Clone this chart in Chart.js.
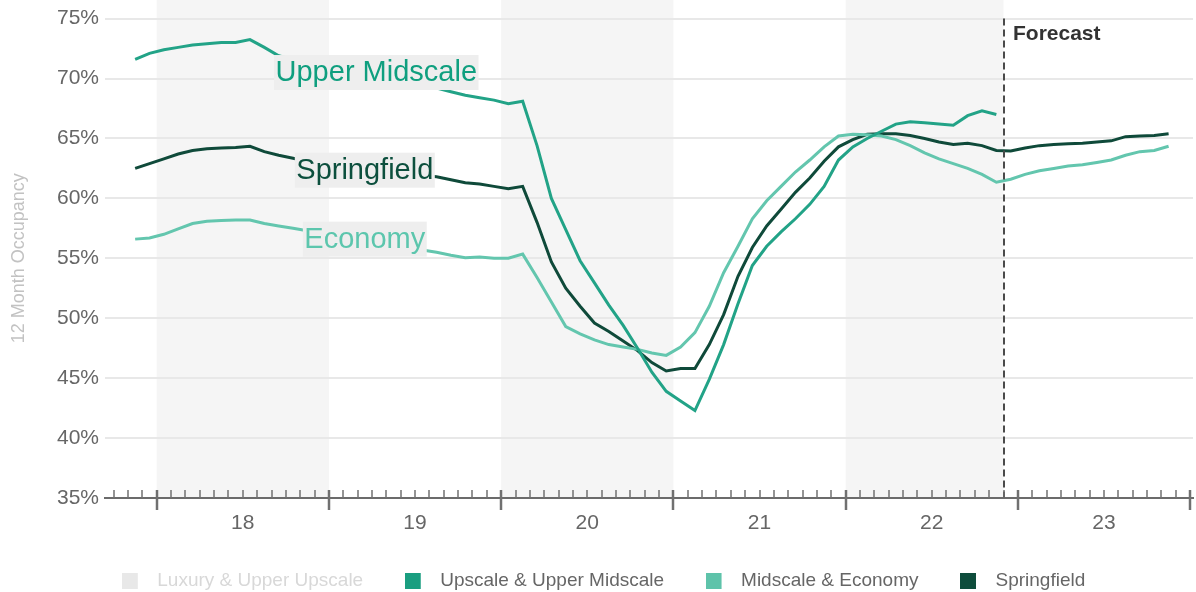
<!DOCTYPE html>
<html>
<head>
<meta charset="utf-8">
<script src="https://cdn.jsdelivr.net/npm/chart.js@4.4.0/dist/chart.umd.min.js"></script>
<style>
  html, body { margin: 0; padding: 0; background: #fff; }
  #wrap { width: 1196px; height: 592px; }
</style>
</head>
<body>
<div id="wrap"><canvas id="occupancyChart"></canvas></div>
<script>
// Monthly 12-month occupancy, Nov 2017 .. Nov 2023 (forecast from Dec 2022)
const months = [];
for (let i = 0; i < 73; i++) {
  const d = new Date(2017, 10 + i, 1);
  months.push(d.getFullYear() + '-' + String(d.getMonth() + 1).padStart(2, '0'));
}

const upperMidscale = [
  71.6, 72.1, 72.4, 72.6, 72.8, 72.9, 73.0, 73.0, 73.25, 72.6, 71.9, 71.6,
  71.3, 71.0, 70.7, 70.5, 70.3, 70.0, 69.8, 69.6, 69.4, 69.2, 68.9, 68.6,
  68.4, 68.2, 67.9, 68.1, 64.4, 60.0, 57.4, 54.8, 52.95, 51.1, 49.4, 47.5,
  45.5, 43.9, 43.1, 42.3, 44.9, 47.8, 51.2, 54.4, 56.0, 57.2, 58.3, 59.5,
  61.0, 63.2, 64.3, 65.0, 65.6, 66.2, 66.4, 66.3, 66.2, 66.1, 66.9, 67.3,
  67.0
];

const economy = [
  56.6, 56.7, 57.0, 57.45, 57.9, 58.1, 58.15, 58.2, 58.2, 57.9, 57.7, 57.5,
  57.3, 57.1, 56.9, 56.7, 56.5, 56.3, 56.1, 55.9, 55.7, 55.5, 55.25, 55.05,
  55.1, 55.0, 55.0, 55.35, 53.4, 51.35, 49.3, 48.7, 48.2, 47.8, 47.6, 47.4,
  47.1, 46.9, 47.6, 48.8, 51.0, 53.8, 56.0, 58.3, 59.8, 61.0, 62.2, 63.2,
  64.3, 65.2, 65.35, 65.3, 65.2, 64.9, 64.4, 63.8, 63.3, 62.9, 62.5, 62.0,
  61.35, 61.6, 62.0, 62.3, 62.5, 62.7, 62.8, 63.0, 63.2, 63.6, 63.9, 64.0,
  64.35
];

const springfield = [
  62.5, 62.9, 63.3, 63.7, 64.0, 64.15, 64.2, 64.25, 64.35, 63.9, 63.6, 63.35,
  63.1, 62.9, 62.7, 62.55, 62.4, 62.3, 62.15, 62.0, 61.9, 61.8, 61.55, 61.3,
  61.2, 61.0, 60.8, 61.0, 58.0, 54.7, 52.5, 51.0, 49.6, 48.9, 48.1, 47.3,
  46.3, 45.6, 45.8, 45.8, 47.8, 50.3, 53.5, 55.9, 57.7, 59.1, 60.5, 61.7,
  63.1, 64.3, 64.9, 65.35, 65.4, 65.4, 65.25, 65.0, 64.7, 64.5, 64.6, 64.4,
  64.0, 63.95, 64.2, 64.4, 64.5, 64.55, 64.6, 64.7, 64.8, 65.15, 65.2, 65.25,
  65.4
];

const seriesNames = ['Luxury & Upper Upscale', 'Upscale & Upper Midscale', 'Midscale & Economy', 'Springfield'];
const yearTicks = ['18', '19', '20', '21', '22', '23'];
const yTickValues = [35, 40, 45, 50, 55, 60, 65, 70, 75];
const shadedYears = [2018, 2020, 2022];
const forecastStart = '2022-12';

// months counted from Jan 2018; a month's value sits in its middle
function monthStart(key) {
  const [y, m] = key.split('-').map(Number);
  return (y - 2018) * 12 + (m - 1);
}
const toPoints = values => values.map((v, i) => ({ x: monthStart(months[i]) + 0.5, y: v }));

const lineColors = ['#e6e6e6', '#22a387', '#63c6ae', '#0f4a3a'];
const legendColors = ['#e8e8e8', '#1a9e80', '#5ec3aa', '#0e4d3c'];

function swatch(color) {
  const c = document.createElement('canvas');
  c.width = 26; c.height = 16;
  const g = c.getContext('2d');
  g.fillStyle = color;
  g.fillRect(0, 0, 16, 16);
  return c;
}

const chartDecor = {
  id: 'chartDecor',
  beforeDraw(chart, args, opts) {
    const { ctx, chartArea, scales: { x } } = chart;
    const fc = monthStart(forecastStart);
    ctx.save();
    ctx.fillStyle = '#f5f5f5';
    shadedYears.forEach(yr => {
      const from = (yr - 2018) * 12;
      const to = Math.min(from + 12, fc);
      const x0 = x.getPixelForValue(from);
      const x1 = x.getPixelForValue(to);
      ctx.fillRect(x0, 0, x1 - x0, chartArea.bottom);
    });
    ctx.restore();
  },
  afterDatasetsDraw(chart, args, opts) {
    const { ctx, chartArea, scales: { x, y } } = chart;
    const fx = Math.round(x.getPixelForValue(monthStart(forecastStart)));
    ctx.save();
    ctx.strokeStyle = '#4a4a4a';
    ctx.lineWidth = 2;
    ctx.setLineDash([7, 4]);
    ctx.beginPath();
    ctx.moveTo(fx, chartArea.top);
    ctx.lineTo(fx, chartArea.bottom);
    ctx.stroke();
    ctx.setLineDash([]);
    ctx.fillStyle = '#333';
    ctx.font = 'bold 21px "Liberation Sans", Arial, sans-serif';
    ctx.textBaseline = 'alphabetic';
    ctx.fillText('Forecast', fx + 9, chartArea.top + 21);

    // series name tags laid over the lines
    ctx.font = '29px "Liberation Sans", Arial, sans-serif';
    ctx.textAlign = 'center';
    opts.tags.forEach(t => {
      const cx = x.getPixelForValue(t.x);
      const cy = y.getPixelForValue(t.y);
      const w = ctx.measureText(t.text).width + 3;
      ctx.fillStyle = '#eeeeee';
      ctx.fillRect(cx - w / 2, cy - 17.5, w, 35);
      ctx.fillStyle = t.color;
      ctx.fillText(t.text, cx, cy + 8.5);
    });
    ctx.restore();
  },
  afterDraw(chart) {
    // monthly tick marks, longer at each year boundary
    const { ctx, chartArea, scales: { x } } = chart;
    const base = chartArea.bottom;
    ctx.save();
    ctx.strokeStyle = '#707070';
    for (let m = Math.ceil(x.min); m <= x.max; m++) {
      const major = m % 12 === 0;
      const px = Math.round(x.getPixelForValue(m));
      ctx.lineWidth = major ? 2.5 : 1.5;
      ctx.beginPath();
      ctx.moveTo(px, base - 8);
      ctx.lineTo(px, base + (major ? 12 : 0));
      ctx.stroke();
    }
    ctx.restore();
  }
};

Chart.defaults.font.family = '"Liberation Sans", Arial, sans-serif';

const ctx = document.getElementById('occupancyChart').getContext('2d');
new Chart(ctx, {
  type: 'line',
  data: {
    datasets: [
      { label: seriesNames[0], data: [] },
      { label: seriesNames[1], data: toPoints(upperMidscale) },
      { label: seriesNames[2], data: toPoints(economy) },
      { label: seriesNames[3], data: toPoints(springfield) }
    ].map((ds, i) => Object.assign(ds, {
      borderColor: lineColors[i],
      backgroundColor: lineColors[i],
      borderWidth: 3,
      pointRadius: 0,
      tension: 0,
      fill: false
    }))
  },
  options: {
    responsive: true,
    maintainAspectRatio: false,
    animation: false,
    layout: { padding: { top: 17, right: 3, bottom: -8, left: 14 } },
    scales: {
      x: {
        type: 'linear',
        min: -3.6,
        max: 72.2,
        grid: { display: false, drawTicks: false },
        border: { display: true, color: '#6b6b6b', width: 2 },
        afterBuildTicks: scale => {
          scale.ticks = yearTicks.map((t, i) => ({ value: i * 12 + 6 }));
        },
        ticks: {
          autoSkip: false,
          maxRotation: 0,
          padding: 13,
          color: '#666',
          font: { size: 21 },
          callback: v => yearTicks[(v - 6) / 12]
        },
        afterFit: scale => { scale.height = 31.5; }
      },
      y: {
        min: yTickValues[0],
        max: yTickValues[yTickValues.length - 1],
        ticks: {
          stepSize: yTickValues[1] - yTickValues[0],
          padding: 6,
          color: '#666',
          font: { size: 21 },
          callback: v => v + '%'
        },
        grid: { color: '#e8e8e8', lineWidth: 2, drawTicks: false },
        border: { display: false },
        title: {
          display: true,
          text: '12 Month Occupancy',
          color: '#c2c2c2',
          font: { size: 18 },
          padding: { top: -6, bottom: 0 }
        },
        afterFit: scale => { scale.width = 91; }
      }
    },
    plugins: {
      tooltip: { enabled: false },
      legend: {
        position: 'bottom',
        labels: {
          usePointStyle: true,
          pointStyleWidth: 26,
          boxHeight: 16,
          padding: 41.5,
          font: { size: 19 },
          generateLabels: chart => chart.data.datasets.map((ds, i) => ({
            text: ds.label,
            pointStyle: swatch(legendColors[i]),
            fillStyle: legendColors[i],
            strokeStyle: legendColors[i],
            lineWidth: 0,
            fontColor: i === 0 ? '#d8d8d8' : '#666',
            hidden: false,
            datasetIndex: i
          }))
        }
      },
      chartDecor: {
        tags: [
          { text: 'Upper Midscale', x: 15.3, y: 70.5, color: '#0f9f7f' },
          { text: 'Springfield', x: 14.5, y: 62.35, color: '#0c4f3d' },
          { text: 'Economy', x: 14.5, y: 56.6, color: '#5cc6ad' }
        ]
      }
    }
  },
  plugins: [chartDecor]
});
</script>
</body>
</html>
